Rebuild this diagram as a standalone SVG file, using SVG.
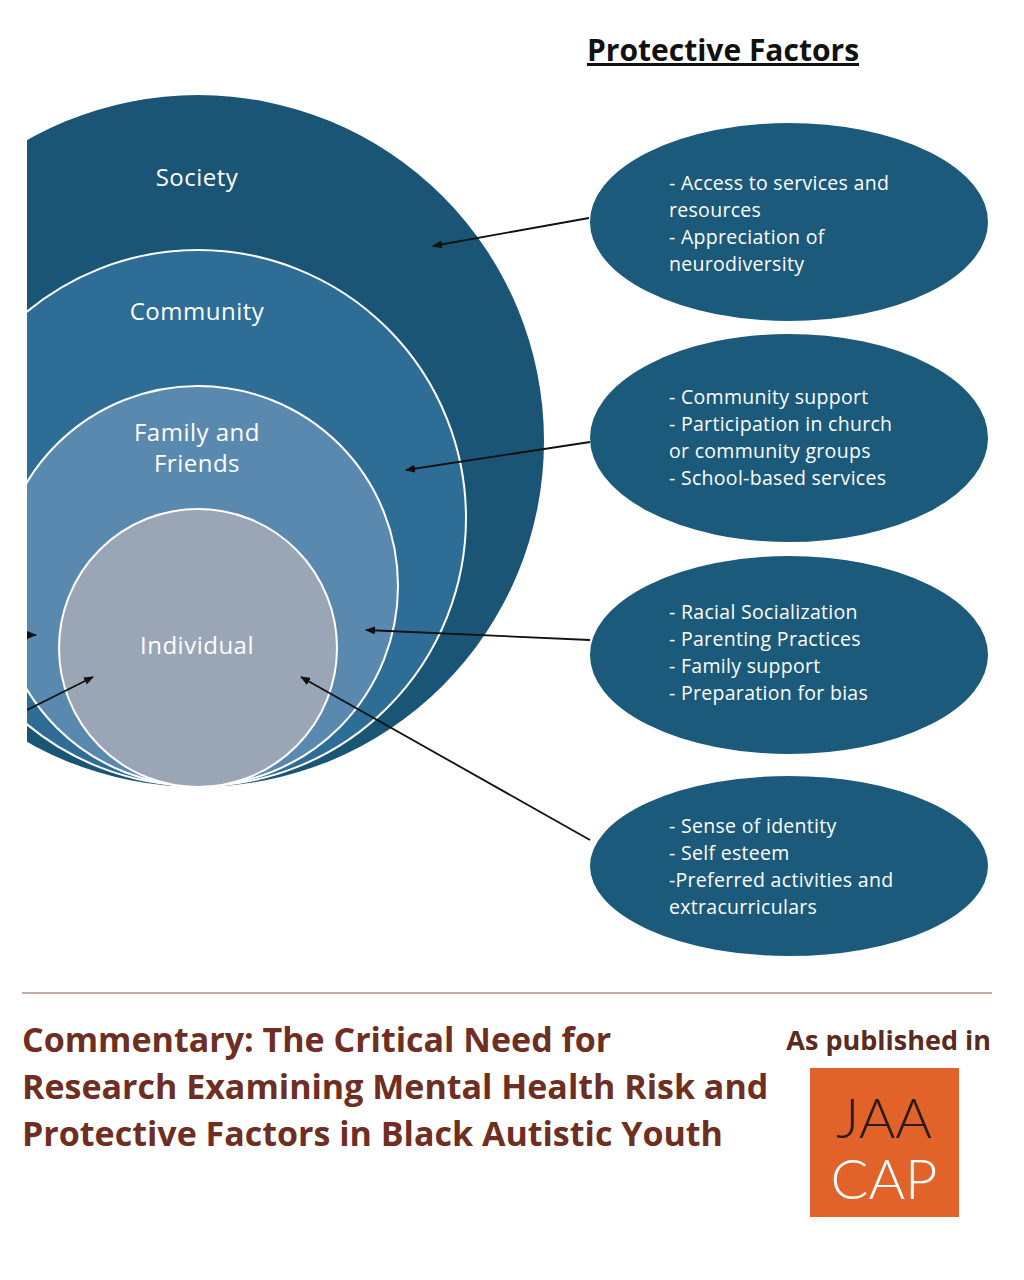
<svg xmlns="http://www.w3.org/2000/svg" width="1024" height="1280" viewBox="0 0 1024 1280">
<style>
.lab{font-family:"Open Sans","Liberation Sans",sans-serif;font-size:24px;letter-spacing:0.5px;fill:#fff;text-anchor:middle}
.bt{font-family:"Open Sans","Liberation Sans",sans-serif;font-size:19.5px;letter-spacing:0.3px;fill:#fff}
.ell{fill:#1b5a7a;stroke:#fff;stroke-width:2}
.ring{stroke:#fff;stroke-width:2}
.arr{stroke:#111;stroke-width:1.8;fill:none;marker-end:url(#ah)}
.ttl{font-family:"Open Sans","Liberation Sans",sans-serif;font-size:34px;font-weight:bold;fill:#6e2e22}
</style>
<defs>
<marker id="ah" markerWidth="10" markerHeight="8" refX="9" refY="4" orient="auto" markerUnits="userSpaceOnUse"><path d="M0,0 L10,4 L0,8 z" fill="#111"/></marker>
<clipPath id="cl"><rect x="27" y="0" width="1000" height="1280"/></clipPath>
</defs>
<rect width="1024" height="1280" fill="#fff"/>
<text x="723" y="61" font-family="Open Sans, Liberation Sans, sans-serif" font-size="30" font-weight="bold" fill="#111" text-anchor="middle" text-decoration="underline">Protective Factors</text>
<g clip-path="url(#cl)">
<g id="society"><circle cx="198" cy="441" r="346" fill="#1b5575"/><text class="lab" x="197" y="186">Society</text></g>
<g id="community"><circle class="ring" cx="198" cy="518" r="268" fill="#2e6d96"/><text class="lab" x="197" y="320">Community</text></g>
<g id="family"><circle class="ring" cx="198" cy="586" r="200" fill="#5a89b0"/><text class="lab" x="197" y="441">Family and</text><text class="lab" x="197" y="472">Friends</text></g>
<g id="individual"><circle class="ring" cx="198" cy="648" r="139" fill="#9aa6b5"/><text class="lab" x="197" y="654">Individual</text></g>
</g>
<g id="e1"><ellipse class="ell" cx="789" cy="222" rx="200" ry="100"/>
<text class="bt" x="669" y="190">- Access to services and</text><text class="bt" x="669" y="217">resources</text><text class="bt" x="669" y="244">- Appreciation of</text><text class="bt" x="669" y="271">neurodiversity</text></g>
<g id="e2"><ellipse class="ell" cx="789" cy="438" rx="200" ry="105"/>
<text class="bt" x="669" y="404">- Community support</text><text class="bt" x="669" y="431">- Participation in church</text><text class="bt" x="669" y="458">or community groups</text><text class="bt" x="669" y="485">- School-based services</text></g>
<g id="e3"><ellipse class="ell" cx="789" cy="655" rx="200" ry="100"/>
<text class="bt" x="669" y="619">- Racial Socialization</text><text class="bt" x="669" y="646">- Parenting Practices</text><text class="bt" x="669" y="673">- Family support</text><text class="bt" x="669" y="700">- Preparation for bias</text></g>
<g id="e4"><ellipse class="ell" cx="789" cy="866" rx="200" ry="91"/>
<text class="bt" x="669" y="833">- Sense of identity</text><text class="bt" x="669" y="860">- Self esteem</text><text class="bt" x="669" y="887">-Preferred activities and</text><text class="bt" x="669" y="914">extracurriculars</text></g>
<g id="connectors">
<line class="arr" x1="589" y1="218" x2="433" y2="246"/>
<line class="arr" x1="590" y1="442" x2="406" y2="470"/>
<line class="arr" x1="590" y1="640" x2="366" y2="630"/>
<line class="arr" x1="590" y1="840" x2="301" y2="677"/>
<line class="arr" x1="27" y1="635" x2="36" y2="635"/>
<line class="arr" x1="27" y1="710" x2="93" y2="677"/>
</g>
<line x1="22" y1="993" x2="992" y2="993" stroke="#8a5a4a" stroke-width="1.2"/>
<text class="ttl" x="22" y="1052">Commentary: The Critical Need for</text>
<text class="ttl" x="22" y="1099">Research Examining Mental Health Risk and</text>
<text class="ttl" x="22" y="1146">Protective Factors in Black Autistic Youth</text>
<text x="991" y="1050" font-family="Open Sans, Liberation Sans, sans-serif" font-size="27" font-weight="bold" fill="#5a2a20" text-anchor="end">As published in</text>
<g id="logo"><rect x="810" y="1068" width="149" height="149" fill="#e2632a"/>
<text x="884" y="1138" font-family="Lato, Liberation Sans, sans-serif" font-size="56" fill="#2a1a14" text-anchor="middle" font-weight="300">JAA</text>
<text x="884" y="1199" font-family="Lato, Liberation Sans, sans-serif" font-size="56" fill="#fff" text-anchor="middle" font-weight="300">CAP</text></g>
</svg>
